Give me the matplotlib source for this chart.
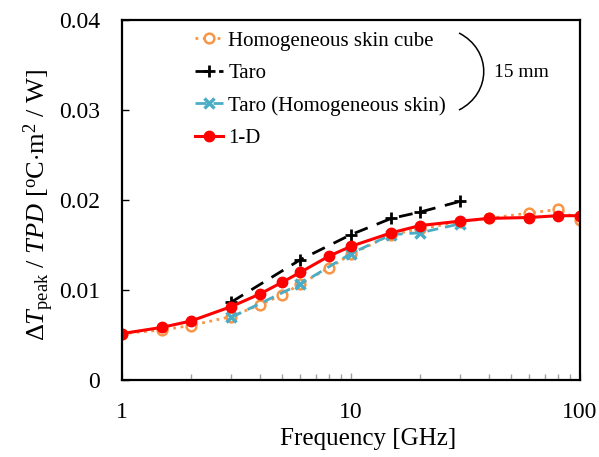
import matplotlib
matplotlib.use("Agg")
import matplotlib.pyplot as plt
from matplotlib.path import Path
from matplotlib.patches import PathPatch

plt.rcParams['font.family'] = ['Liberation Serif', 'DejaVu Serif']
plt.rcParams['mathtext.fontset'] = 'custom'
plt.rcParams['mathtext.rm'] = 'Liberation Serif'
plt.rcParams['mathtext.it'] = 'Liberation Serif:italic'

# Frequency points [GHz]
freq_cube = [1, 1.5, 2, 3, 4, 5, 6, 8, 10, 15, 20, 30, 40, 60, 80, 100]
freq_taro = [3, 6, 10, 15, 20, 30]
freq_1d = [1, 1.5, 2, 3, 4, 5, 6, 8, 10, 15, 20, 30, 40, 60, 80, 100]

# Peak temperature rise normalised by TPD [degC m^2 / W]
cube_vals = [0.0051, 0.0055, 0.0060, 0.0070, 0.0083, 0.0094, 0.0106, 0.0124,
             0.0139, 0.0161, 0.0167, 0.01755, 0.0179, 0.0185, 0.0189, 0.0177]
taro_vals = [0.0086, 0.0133, 0.0161, 0.0179, 0.0186, 0.0198]
taro_homo_vals = [0.0069, 0.0106, 0.0140, 0.0161, 0.0163, 0.0173]
oned_vals = [0.0051, 0.0058, 0.0065, 0.0081, 0.0095, 0.0108, 0.0119, 0.0137,
             0.0148, 0.0163, 0.0171, 0.0176, 0.0179, 0.0180, 0.0182, 0.0182]

labels = ["Homogeneous skin cube", "Taro", "Taro (Homogeneous skin)", "1-D"]

W, H = 599, 457
fig = plt.figure(figsize=(W / 100, H / 100), dpi=100)
ax = fig.add_axes([122 / W, (H - 379.5) / H, (580 - 122) / W, (379.5 - 19.5) / H])

orange = '#F79646'
cyan = '#4BACC6'

l1, = ax.plot(freq_cube, cube_vals, ':', color=orange, lw=2, marker='o',
              markersize=7, markerfacecolor='white', markeredgecolor=orange,
              markeredgewidth=1.8, label=labels[0])
l2, = ax.plot(freq_taro, taro_vals, '--', color='black', lw=2, dashes=(5, 3.5),
              marker='+', markersize=9, markeredgewidth=2, label=labels[1])
l3, = ax.plot(freq_taro, taro_homo_vals, '--', color=cyan, lw=2, dashes=(4, 2.5),
              marker='x', markersize=7, markeredgewidth=2.5, label=labels[2])
l4, = ax.plot(freq_1d, oned_vals, '-', color='red', lw=2.2, marker='o',
              markersize=7.5, markerfacecolor='red', markeredgecolor='red',
              label=labels[3])

ax.set_xscale('log')
ax.set_xlim(1, 100)
ax.set_ylim(0, 0.04)
ax.set_yticks([0, 0.01, 0.02, 0.03, 0.04])
ax.set_yticklabels(['0', '0.01', '0.02', '0.03', '0.04'])
ax.set_xticks([1, 10, 100])
ax.set_xticklabels(['1', '10', '100'])

for s in ax.spines.values():
    s.set_linewidth(1.6)
    s.set_color('black')

ax.tick_params(axis='y', direction='in', length=5, width=1, color='black',
               labelsize=17, pad=16, right=False)
ax.tick_params(axis='x', which='major', direction='in', length=5, width=1,
               color='#a0a0a0', labelsize=17, pad=16, top=False)
ax.tick_params(axis='x', which='minor', direction='in', length=4, width=1,
               color='#a0a0a0', top=False)

ax.set_xlabel('Frequency [GHz]', fontsize=18)
ax.xaxis.set_label_coords((368 - 122) / 458, -(428 - 379.5) / 360)
ax.set_ylabel(r'$\Delta\mathit{T}_{\mathrm{peak}}$ / $\mathit{TPD}$ [$^{\mathrm{o}}$C$\cdot$m$^{2}$ / W]',
              fontsize=19)
ax.yaxis.set_label_coords(-(122 - 56) / 458, (379.5 - 205) / 360)

leg = ax.legend(handles=[l1, l2, l3, l4], loc='upper left',
                bbox_to_anchor=((195 - 122) / 458, 1 - (31 - 19.5) / 360),
                frameon=False, fontsize=15,
                numpoints=1, handlelength=1.35, handletextpad=0.25,
                labelspacing=0.62, borderaxespad=0, borderpad=0)

# Bracket grouping the three 15 mm models
def px(x, y):
    return (x / W, 1 - y / H)

p0, p1, p2, p3 = px(459, 33), px(492, 50), px(492, 93), px(459, 110)
bracket = Path([p0, p1, p2, p3], [Path.MOVETO, Path.CURVE4, Path.CURVE4, Path.CURVE4])
fig.patches.append(PathPatch(bracket, fill=False, lw=1.1, color='black',
                             transform=fig.transFigure))
fig.text(494 / W, 1 - 72 / H, '15 mm', fontsize=14, ha='left', va='center')

fig.savefig('out.png', dpi=100)
